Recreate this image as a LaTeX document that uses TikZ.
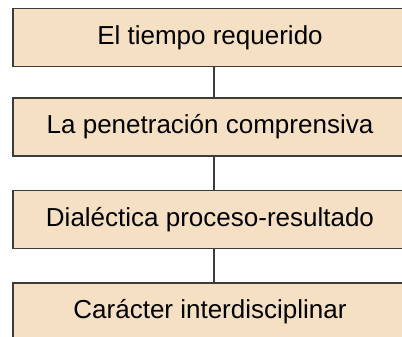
\documentclass[tikz,border=0pt]{standalone}
\usepackage{fontspec}
\setmainfont{Liberation Sans}
\definecolor{boxfill}{HTML}{F5E0C3}
\definecolor{boxline}{HTML}{3C3C3C}
\begin{document}
\begin{tikzpicture}[x=1bp,y=-1bp,
  stagebox/.style={draw=boxline,line width=1.5bp,fill=boxfill,rectangle,
    minimum width=440bp,minimum height=58bp,inner sep=0pt,
    font=\fontsize{26bp}{30bp}\selectfont,text=black},
  link/.style={draw=boxline,line width=1.5bp}]
\fill[white] (0,0) rectangle (402,337);
\useasboundingbox (0,0) rectangle (402,337);
\coordinate (lx) at (214,0);
\node[stagebox] (a) at (233,37.5) {\hspace*{-46bp}El tiempo requerido};
\node[stagebox] (b) at (233,127) {\hspace*{-46bp}La penetración comprensiva};
\node[stagebox] (c) at (233,219.5) {\hspace*{-46bp}Dialéctica proceso-resultado};
\node[stagebox] (d) at (233,312) {\hspace*{-46bp}Carácter interdisciplinar};
\draw[link] (a.south -| lx) -- (b.north -| lx);
\draw[link] (b.south -| lx) -- (c.north -| lx);
\draw[link] (c.south -| lx) -- (d.north -| lx);
\end{tikzpicture}
\end{document}
